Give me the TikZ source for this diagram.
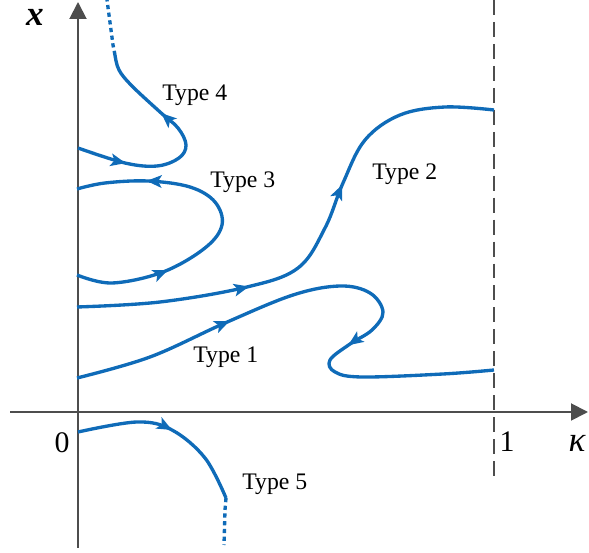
\documentclass[tikz,border=0pt]{standalone}
\usepackage{fontspec}
\setmainfont{Liberation Serif}
\usepackage{tikz}
\usetikzlibrary{arrows.meta,decorations.markings}
\definecolor{blu}{HTML}{0F6BB8}
\definecolor{axgray}{HTML}{4D4D4D}
\tikzset{
    traj/.style={blu, line width=1.9pt},
    trajdot/.style={blu, line width=1.9pt, dash pattern=on 2.4pt off 2pt},
    axis/.style={axgray, line width=1.1pt, -{Triangle[length=3.4mm,width=3.4mm]}},
    flowtip/.style={postaction=decorate, decoration={markings,
        mark=at position #1 with {\arrow{Stealth[length=3mm,width=2.5mm,inset=0.7mm]}}}},
    flowtips/.style 2 args={postaction=decorate, decoration={markings,
        mark=at position #1 with {\arrow{Stealth[length=3mm,width=2.5mm,inset=0.7mm]}},
        mark=at position #2 with {\arrow{Stealth[length=3mm,width=2.5mm,inset=0.7mm]}}}},
    lbl/.style={font=\fontsize{13.5}{16}\selectfont, anchor=base west, inner sep=0pt},
    ticklbl/.style={font=\fontsize{17}{20}\selectfont, anchor=base, inner sep=0pt}
}

\begin{document}
\begin{tikzpicture}[x=0.02cm, y=-0.02cm]
        \useasboundingbox (0,0) rectangle (589,553);
        \draw[axis] (10,412) -- (588,412);
        \draw[axis] (78,548) -- (78,2);
        \draw[axgray, line width=1.1pt, dash pattern=on 8.5pt off 4pt] (494,0) -- (494,478);
        \node[ticklbl] (orig) at (62,453) {0};
        \node[ticklbl] (one) at (507,452) {1};
        \node[anchor=base, inner sep=0pt, font=\fontsize{20}{24}\selectfont\bfseries\itshape] (xlab) at (35,26) {x};
        \node[anchor=base, inner sep=0pt, font=\fontsize{20}{24}\selectfont\itshape] (klab) at (577,452) {κ};
        % Type 4
        \draw[traj, flowtips={0.21}{0.68}] plot[smooth, tension=0.6] coordinates {(78,148) (125,163) (157,166) (179,158) (186,145) (178,128) (160,112) (132,86) (119,70) (115,55)};
        \draw[trajdot] (115,55) -- (113,45) -- (107,0);
        % Type 3
        \draw[traj, flowtips={0.28}{0.79}] plot[smooth, tension=0.6] coordinates {(77,275) (112,283) (163,272) (205,248) (222,225) (215,202) (190,187) (148,181) (105,183) (77,189)};
        % Type 2
        \draw[traj, flowtips={0.34}{0.63}] plot[smooth, tension=0.6] coordinates {(77,307) (160,302) (247,287) (298,268) (325,228) (343,183) (365,140) (400,115) (445,107) (494,110)};
        % Type 1
        \draw[traj, flowtips={0.28}{0.66}] plot[smooth, tension=0.6] coordinates {(77,378) (150,357) (225,323) (293,295) (340,286) (370,293) (383,312) (372,330) (350,344) (330,360) (335,372) (362,377) (443,374) (494,370)};
        % Type 5
        \draw[traj, flowtip=0.52] plot[smooth, tension=0.6] coordinates {(78,432) (137,422) (172,430) (205,458) (226,498)};
        \draw[trajdot] (226,498) -- (225,510) -- (224,545);
        \node[lbl] (type4) at (162,101) {Type 4};
        \node[lbl] (type3) at (210,188) {Type 3};
        \node[lbl] (type2) at (372,180) {Type 2};
        \node[lbl] (type1) at (193,363) {Type 1};
        \node[lbl] (type5) at (242,490) {Type 5};
    \end{tikzpicture}
\end{document}
